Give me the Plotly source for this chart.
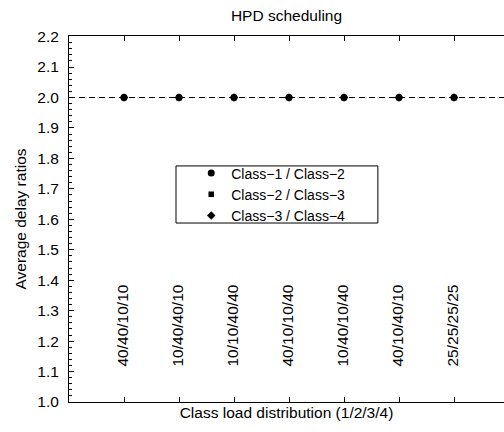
import plotly.graph_objects as go

# Load distributions (share of traffic for classes 1/2/3/4)
load_labels = ["40/40/10/10", "10/40/40/10", "10/10/40/40", "40/10/10/40",
               "10/40/10/40", "40/10/40/10", "25/25/25/25"]
positions = [1, 2, 3, 4, 5, 6, 7]

# Average delay ratio between consecutive classes
ratio_c1_c2 = [2.0, 2.0, 2.0, 2.0, 2.0, 2.0, 2.0]
ratio_c2_c3 = [2.0, 2.0, 2.0, 2.0, 2.0, 2.0, 2.0]
ratio_c3_c4 = [2.0, 2.0, 2.0, 2.0, 2.0, 2.0, 2.0]

# Target differentiation ratio
target_ratio = 2.0

FONT = "Liberation Sans, Arial, Helvetica, sans-serif"
FS = 15.5

fig = go.Figure()

series = [
    ("Class\u22121 / Class\u22122", ratio_c1_c2, "circle", 7),
    ("Class\u22122 / Class\u22123", ratio_c2_c3, "square", 5.5),
    ("Class\u22123 / Class\u22124", ratio_c3_c4, "diamond", 6.5),
]
for name, vals, sym, sz in series:
    fig.add_trace(go.Scatter(
        x=positions, y=vals, mode="markers", name=name,
        marker=dict(symbol=sym, size=sz, color="black"),
    ))

# Target ratio reference line across the whole plot
fig.add_shape(type="line", xref="paper", x0=0, x1=1, yref="y",
              y0=target_ratio, y1=target_ratio,
              line=dict(color="black", width=1, dash="6px,4px"))

# Legend frame
fig.add_shape(type="rect", xref="paper", yref="paper",
              x0=0.246, x1=0.710, y0=0.489, y1=0.645,
              line=dict(color="black", width=1), fillcolor="white",
              layer="below")

# Distribution labels written vertically inside the plot
for xp, lab in zip(positions, load_labels):
    fig.add_annotation(x=xp, y=1.11, text=lab, showarrow=False,
                       textangle=-90, xanchor="center", yanchor="bottom",
                       xshift=-1,
                       font=dict(family=FONT, size=FS, color="black"))

fig.update_layout(
    width=504, height=432,
    margin=dict(l=69, r=0, t=36, b=30),
    paper_bgcolor="white", plot_bgcolor="white",
    font=dict(family=FONT, size=FS, color="black"),
    title=dict(text="HPD scheduling", x=0.5, xref="paper", y=0.963,
               yanchor="middle", font=dict(family=FONT, size=FS, color="black")),
    showlegend=True,
    legend=dict(x=0.281, y=0.668, xanchor="left", yanchor="top",
                bgcolor="rgba(0,0,0,0)", borderwidth=0,
                font=dict(family=FONT, size=14, color="black")),
)

fig.update_xaxes(
    range=[0, 7.909], tickvals=positions, showticklabels=False,
    ticks="inside", ticklen=5, tickcolor="black", tickwidth=1,
    showline=True, linecolor="black", linewidth=1, mirror="ticks",
    showgrid=False, zeroline=False,
    title=dict(text="Class load distribution (1/2/3/4)", standoff=5,
               font=dict(family=FONT, size=FS, color="black")),
)

fig.update_yaxes(
    range=[1.0, 2.202], dtick=0.1, tick0=1.0, tickformat=".1f",
    ticks="inside", ticklen=5, tickcolor="black", tickwidth=1,
    ticklabelstandoff=6,
    minor=dict(dtick=0.02, ticks="inside", ticklen=3, tickcolor="black"),
    showline=True, linecolor="black", linewidth=1,
    showgrid=False, zeroline=False,
    title=dict(text="Average delay ratios", standoff=6,
               font=dict(family=FONT, size=FS, color="black")),
)

fig.write_html("out.html")
